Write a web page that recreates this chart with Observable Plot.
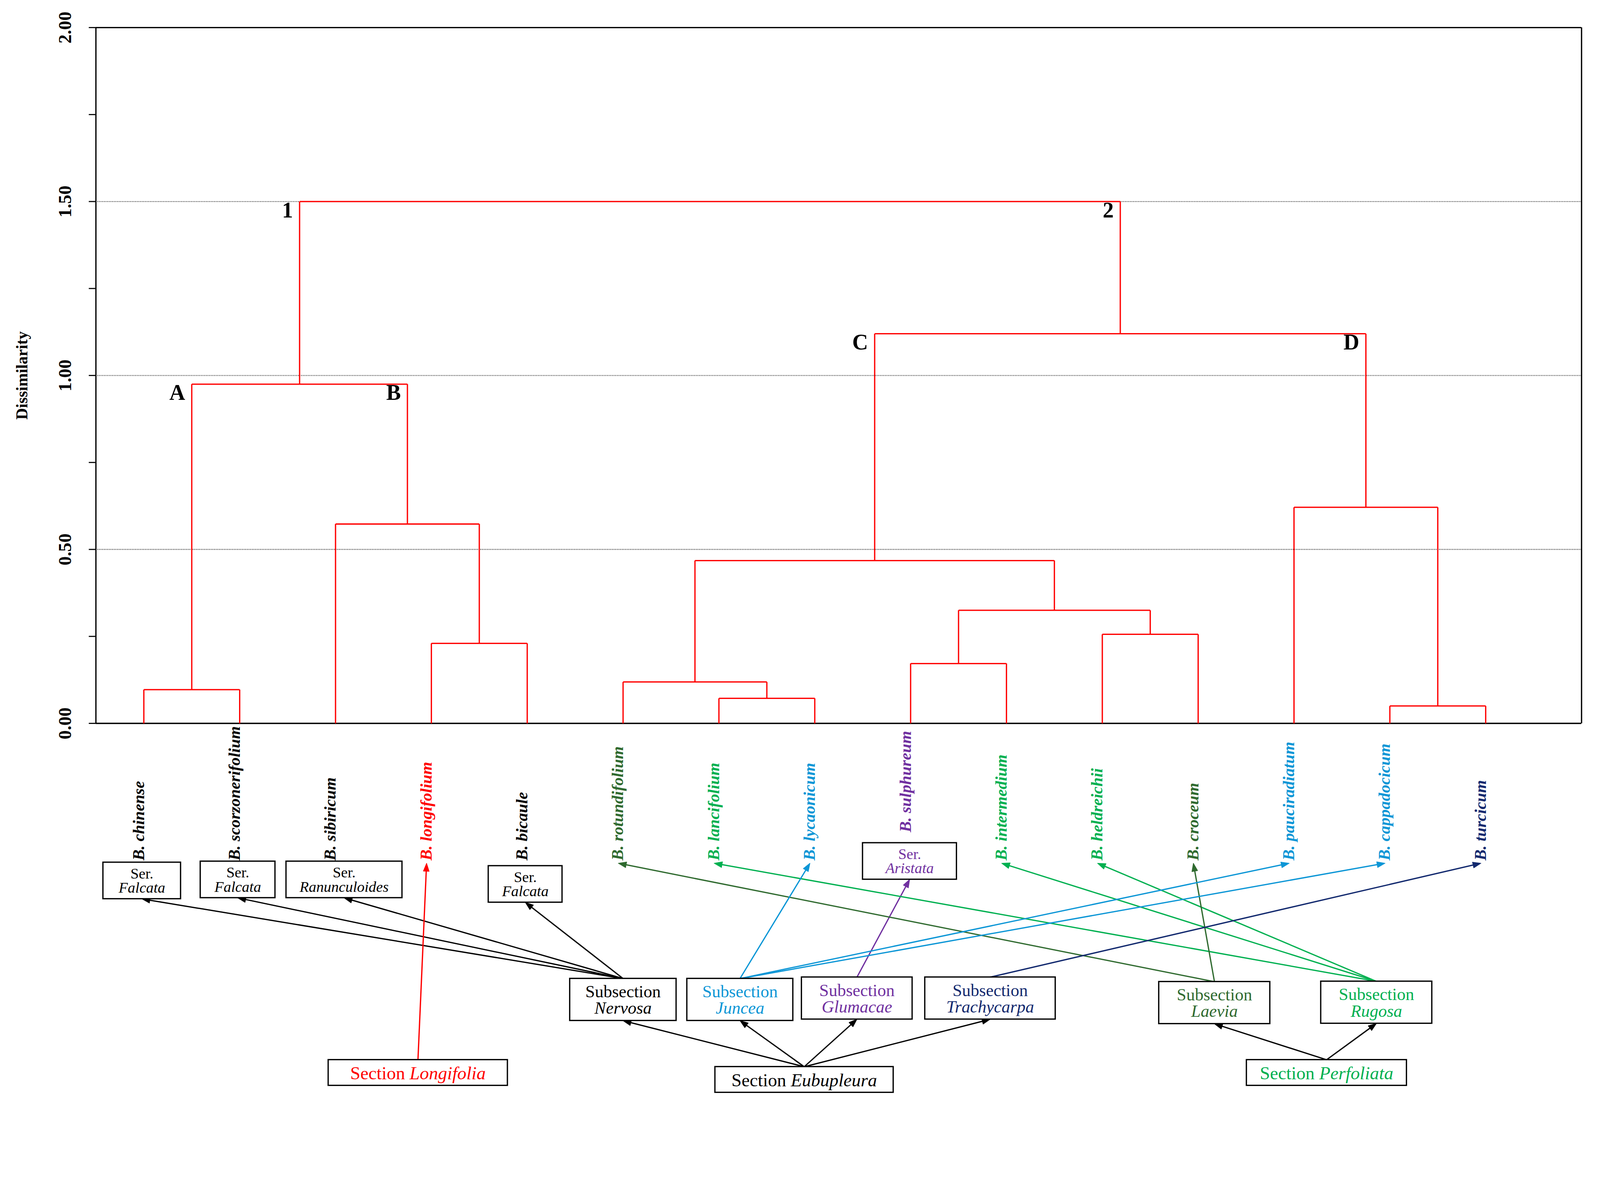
<!DOCTYPE html>
<html><head><meta charset="utf-8">
<script src="https://cdn.jsdelivr.net/npm/d3@7"></script>
<script src="https://cdn.jsdelivr.net/npm/@observablehq/plot@0.6"></script>
<style>html,body{margin:0;padding:0;background:#fff;overflow:hidden}svg{display:block}</style>
</head><body><div id="chart"></div>
<script>
// ---------- DATA ----------
const leaves = ["B. chinense","B. scorzonerifolium","B. sibiricum","B. longifolium","B. bicaule","B. rotundifolium","B. lancifolium","B. lycaonicum","B. sulphureum","B. intermedium","B. heldreichii","B. croceum","B. pauciradiatum","B. cappadocicum","B. turcicum"];
const leafTaxon = ["Nervosa","Nervosa","Nervosa","Longifolia","Nervosa","Laevia","Rugosa","Juncea","Glumacae","Rugosa","Rugosa","Laevia","Juncea","Juncea","Trachycarpa"];
const mergeIds    = ["a1","b2","B","AB","c1","c2","c3","c4","c5","C","d1","D","CD","root"];
const mergeLeft   = ["B. chinense","B. longifolium","B. sibiricum","a1","B. lancifolium","B. rotundifolium","B. sulphureum","B. heldreichii","c3","c2","B. cappadocicum","B. pauciradiatum","C","AB"];
const mergeRight  = ["B. scorzonerifolium","B. bicaule","b2","B","B. lycaonicum","c1","B. intermedium","B. croceum","c4","c5","B. turcicum","d1","D","CD"];
const mergeHeight = [0.097,0.23,0.573,0.975,0.072,0.119,0.172,0.256,0.325,0.468,0.050,0.621,1.12,1.50];
const nodeLabelIds = ["AB","CD","a1","B","C","D"];
const nodeLabels   = ["1","2","A","B","C","D"];
const yTicks = [0,0.25,0.5,0.75,1,1.25,1.5,1.75,2];
const yTickLabels = [0,0.5,1,1.5,2];
const yGrid = [0.5,1,1.5];
const yTitle = "Dissimilarity";
const sections = ["Longifolia","Eubupleura","Perfoliata"];
const subsections = ["Nervosa","Juncea","Glumacae","Trachycarpa","Laevia","Rugosa"];
const subsectionParent = ["Eubupleura","Eubupleura","Eubupleura","Eubupleura","Perfoliata","Perfoliata"];
const seriesNames = ["Falcata","Falcata","Ranunculoides","Falcata","Aristata"];
const seriesLeaf  = ["B. chinense","B. scorzonerifolium","B. sibiricum","B. bicaule","B. sulphureum"];

// ---------- STYLE / LAYOUT ----------
const taxonColor = {Longifolia:"#ff0000", Eubupleura:"#000000", Perfoliata:"#00b050",
  Nervosa:"#000000", Juncea:"#0c96d6", Glumacae:"#7030a0", Trachycarpa:"#12296e",
  Laevia:"#2f6a2f", Rugosa:"#00b050"};
const FONT = "Liberation Serif";
const boxLayout = {
  Longifolia:{x:2.86,y:-1.004,w:1.87,h:0.074},
  Eubupleura:{x:6.89,y:-1.024,w:1.86,h:0.074},
  Perfoliata:{x:12.34,y:-1.004,w:1.67,h:0.074},
  Nervosa:{x:5.0,y:-0.794,w:1.11,h:0.121},
  Juncea:{x:6.22,y:-0.794,w:1.106,h:0.121},
  Glumacae:{x:7.44,y:-0.790,w:1.155,h:0.121},
  Trachycarpa:{x:8.83,y:-0.790,w:1.361,h:0.121},
  Laevia:{x:11.17,y:-0.803,w:1.159,h:0.121},
  Rugosa:{x:12.86,y:-0.802,w:1.159,h:0.121}
};
const seriesLayout = [{dx:-0.02,y:-0.452,w:0.81},{dx:-0.02,y:-0.449,w:0.78},{dx:0.09,y:-0.449,w:1.21},{dx:-0.02,y:-0.462,w:0.77},{dx:-0.01,y:-0.396,w:0.98}];
const seriesH = 0.105;
const labelBase = d => d === "B. sulphureum" ? -0.313 : -0.394;

const W = 4379, H = 3027, ML = 262, MR = 51, MT = 75;
const xDomain = [-0.5, 15];
const yMin = -(H - 1980) / (1980 - MT) * 2;
const pxPerUnit = (W - ML - MR) / (xDomain[1] - xDomain[0]);
const yPxPerUnit = (H - MT) / (2 - yMin);

// ---------- TREE LAYOUT ----------
const nodeX = new Map(leaves.map((d, i) => [d, i]));
const nodeH = new Map(leaves.map(d => [d, 0]));
const parentH = new Map();
mergeIds.forEach((id, i) => {
  nodeX.set(id, (nodeX.get(mergeLeft[i]) + nodeX.get(mergeRight[i])) / 2);
  nodeH.set(id, mergeHeight[i]);
  parentH.set(mergeLeft[i], mergeHeight[i]);
  parentH.set(mergeRight[i], mergeHeight[i]);
});
const segs = [];
mergeIds.forEach((id, i) => {
  const h = mergeHeight[i], l = mergeLeft[i], r = mergeRight[i];
  segs.push({x1: nodeX.get(l), y1: h, x2: nodeX.get(r), y2: h});
  segs.push({x1: nodeX.get(l), y1: nodeH.get(l), x2: nodeX.get(l), y2: h});
  segs.push({x1: nodeX.get(r), y1: nodeH.get(r), x2: nodeX.get(r), y2: h});
});
const nodeLabelData = nodeLabelIds.map((id, i) => ({x: nodeX.get(id), y: parentH.get(id), t: nodeLabels[i]}));

// ---------- BOXES & ARROWS ----------
const seriesBoxes = seriesNames.map((s, i) => {
  const li = leaves.indexOf(seriesLeaf[i]);
  const L = seriesLayout[i];
  return {name: s, parent: leafTaxon[li], x: li + L.dx, y: L.y, w: L.w, h: seriesH};
});
const mainBoxes = [...sections, ...subsections].map(n => ({name: n, ...boxLayout[n]}));
const allBoxes = [...mainBoxes, ...seriesBoxes];
const boxTop = b => ({x: b.x, y: b.y + b.h / 2});
const boxBot = b => ({x: b.x, y: b.y - b.h / 2});
const arrows = [];
subsections.forEach((s, i) => {
  const a = boxTop(boxLayout[subsectionParent[i]]), b = boxBot(boxLayout[s]);
  arrows.push({x1: a.x, y1: a.y, x2: b.x, y2: b.y, c: "#000000"});
});
seriesBoxes.forEach(sb => {
  const a = boxTop(boxLayout[sb.parent]), b = boxBot(sb);
  arrows.push({x1: a.x, y1: a.y, x2: b.x, y2: b.y, c: taxonColor[sb.parent]});
});
leaves.forEach((lf, i) => {
  if (seriesLeaf.includes(lf)) return;
  const t = leafTaxon[i];
  const a = boxTop(boxLayout[t]);
  arrows.push({x1: a.x, y1: a.y, x2: i - 0.05, y2: labelBase(lf) - 0.008, c: taxonColor[t]});
});
// filled triangular heads (computed in screen space, returned to data units)
const HEAD_L = 22, HEAD_W = 8;
const heads = [];
const shafts = arrows.map((a, k) => {
  const dxp = (a.x2 - a.x1) * pxPerUnit, dyp = -(a.y2 - a.y1) * yPxPerUnit;
  const len = Math.hypot(dxp, dyp), ux = dxp / len, uy = dyp / len;
  const toData = (px, py) => ({x: a.x2 + px / pxPerUnit, y: a.y2 - py / yPxPerUnit, k, c: a.c});
  const bx = -ux * HEAD_L, by = -uy * HEAD_L;
  heads.push(toData(0, 0), toData(bx - uy * HEAD_W, by + ux * HEAD_W), toData(bx + uy * HEAD_W, by - ux * HEAD_W));
  const e = toData(bx * 0.7, by * 0.7);
  return {x1: a.x1, y1: a.y1, x2: e.x, y2: e.y, c: a.c};
});

// section labels: "Section " upright + italic name, centred together
const ctx = document.createElement("canvas").getContext("2d");
const tw = (t, f) => { ctx.font = f; return ctx.measureText(t).width; };
const SECF = 50;
const sectionText = [];
sections.forEach(s => {
  const b = boxLayout[s];
  const w1 = tw("Section ", `${SECF}px "${FONT}"`);
  const w2 = tw(s, `italic ${SECF}px "${FONT}"`);
  const left = b.x - (w1 + w2) / 2 / pxPerUnit;
  sectionText.push({x: left, y: b.y, t: "Section", italic: false, c: taxonColor[s]});
  sectionText.push({x: left + w1 / pxPerUnit, y: b.y, t: s, italic: true, c: taxonColor[s]});
});

const txt = (data, opts) => Plot.text(data, {fontFamily: FONT, ...opts});

const plot = Plot.plot({
  width: W, height: H,
  marginLeft: ML, marginRight: MR, marginTop: MT, marginBottom: 0,
  x: {domain: xDomain, axis: null},
  y: {domain: [yMin, 2], axis: null},
  color: {type: "identity"},
  style: {background: "white", overflow: "visible"},
  marks: [
    Plot.ruleY(yGrid, {x1: xDomain[0], x2: xDomain[1], stroke: "#333", strokeWidth: 2.5, strokeDasharray: "2,2.5"}),
    Plot.ruleX(xDomain, {y1: 0, y2: 2, stroke: "black", strokeWidth: 3.5}),
    Plot.ruleY([0, 2], {x1: xDomain[0], x2: xDomain[1], stroke: "black", strokeWidth: 3.5}),
    Plot.axisY(yTicks, {anchor: "left", tickSize: 19, tickFormat: () => "", stroke: "black", strokeWidth: 3}),
    txt(yTickLabels, {x: () => xDomain[0], y: d => d, text: d3.format(".2f"), rotate: -90, dx: -84,
      textAnchor: "middle", lineAnchor: "middle", fontSize: 50, fontWeight: "bold", fill: "black"}),
    txt([yTitle], {x: () => xDomain[0], y: () => 1, text: d => d, rotate: -90, dx: -202,
      textAnchor: "middle", lineAnchor: "middle", fontSize: 44, fontWeight: "bold", fill: "black"}),
    Plot.link(segs, {x1: "x1", y1: "y1", x2: "x2", y2: "y2", stroke: "#ff0000", strokeWidth: 3.5}),
    txt(nodeLabelData, {x: "x", y: "y", text: "t", dx: -18, dy: 24, textAnchor: "end", lineAnchor: "middle",
      fontSize: 60, fontWeight: "bold", fill: "black"}),
    txt(leaves, {x: (d, i) => i, y: d => labelBase(d), text: d => d, rotate: -90, dx: -14,
      textAnchor: "start", lineAnchor: "middle", fontSize: 45, fontStyle: "italic", fontWeight: "bold",
      fill: (d, i) => taxonColor[leafTaxon[i]]}),
    Plot.link(shafts, {x1: "x1", y1: "y1", x2: "x2", y2: "y2", stroke: "c", strokeWidth: 3.5}),
    Plot.line(heads, {x: "x", y: "y", z: "k", fill: "c", stroke: "c", strokeWidth: 1.5, curve: "linear-closed"}),
    Plot.rect(allBoxes, {x1: d => d.x - d.w / 2, x2: d => d.x + d.w / 2, y1: d => d.y - d.h / 2, y2: d => d.y + d.h / 2,
      fill: "white", stroke: "black", strokeWidth: 3.5}),
    txt(subsections, {x: d => boxLayout[d].x, y: d => boxLayout[d].y, text: () => "Subsection", dy: -21,
      textAnchor: "middle", lineAnchor: "middle", fontSize: 47, fill: d => taxonColor[d]}),
    txt(subsections, {x: d => boxLayout[d].x, y: d => boxLayout[d].y, text: d => d, dy: 24,
      textAnchor: "middle", lineAnchor: "middle", fontSize: 47, fontStyle: "italic", fill: d => taxonColor[d]}),
    txt(seriesBoxes, {x: "x", y: "y", text: () => "Ser.", dy: -19, textAnchor: "middle", lineAnchor: "middle",
      fontSize: 41, fill: d => taxonColor[d.parent]}),
    txt(seriesBoxes, {x: "x", y: "y", text: "name", dy: 20, textAnchor: "middle", lineAnchor: "middle",
      fontSize: 41, fontStyle: "italic", fill: d => taxonColor[d.parent]}),
    txt(sectionText.filter(d => !d.italic), {x: "x", y: "y", text: "t", dy: 2, textAnchor: "start", lineAnchor: "middle",
      fontSize: SECF, fill: "c"}),
    txt(sectionText.filter(d => d.italic), {x: "x", y: "y", text: "t", dy: 2, textAnchor: "start", lineAnchor: "middle",
      fontSize: SECF, fontStyle: "italic", fill: "c"})
  ]
});
document.getElementById("chart").append(plot);
</script>
</body></html>
